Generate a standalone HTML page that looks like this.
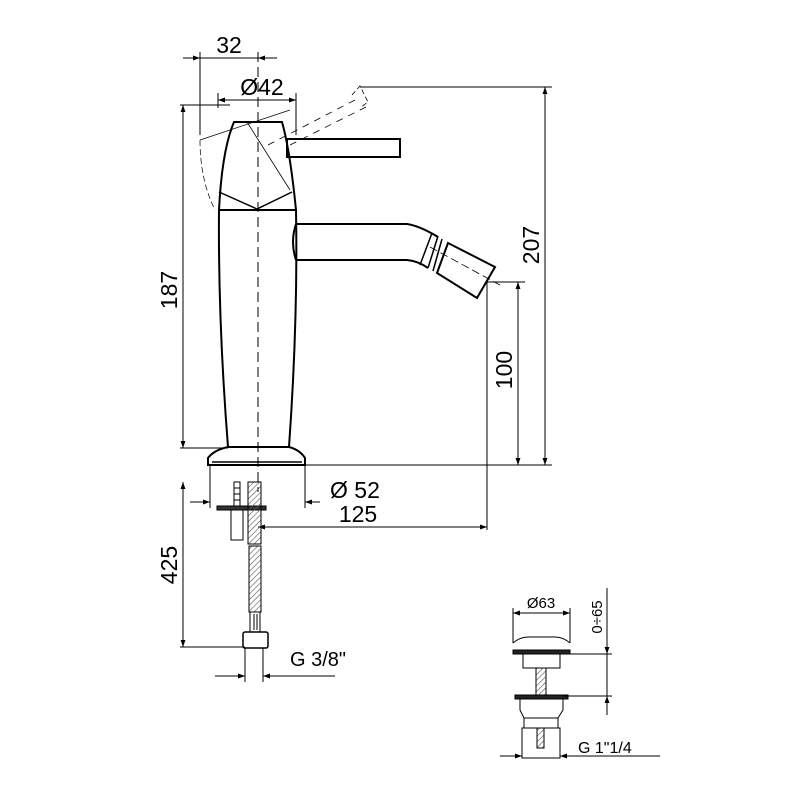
<!DOCTYPE html>
<html><head><meta charset="utf-8"><style>html,body{margin:0;padding:0;background:#fff}svg{display:block}</style></head>
<body>
<svg width="800" height="800" viewBox="0 0 800 800" xmlns="http://www.w3.org/2000/svg" font-family="Liberation Sans, sans-serif">
<defs>
<marker id="a" viewBox="0 0 10 10" refX="10" refY="5" markerWidth="10" markerHeight="7" orient="auto-start-reverse" markerUnits="userSpaceOnUse"><path d="M0,1.5 L10,5 L0,8.5Z" fill="#000"/></marker>
<pattern id="h" width="4" height="4" patternUnits="userSpaceOnUse" patternTransform="rotate(45)"><line x1="0" y1="0" x2="0" y2="4" stroke="#555" stroke-width="1.2"/></pattern>
</defs>
<g stroke="#000" fill="none" stroke-width="1">
<line x1="183" y1="58" x2="200" y2="58" marker-end="url(#a)"/>
<line x1="200" y1="58" x2="258" y2="58"/>
<line x1="277" y1="58" x2="258" y2="58" marker-end="url(#a)"/>
<line x1="200" y1="52" x2="200" y2="135"/>
<line x1="218" y1="100" x2="296" y2="100" marker-start="url(#a)" marker-end="url(#a)"/>
<line x1="218" y1="93" x2="218" y2="108"/>
<line x1="296" y1="93" x2="296" y2="135"/>
<line x1="258" y1="52" x2="258" y2="492" stroke-dasharray="10,5"/>
<path d="M234,122 L282,122 Q290,150 296,210 L219,210 Q222,150 234,122Z" stroke-width="2"/>
<path d="M219,192 L257,209 L292,192" stroke-width="1.5"/>
<path d="M247,122 L290,190" stroke-width="0.8"/>
<path d="M200,140 L290,110" stroke-width="0.7"/>
<path d="M200,140 Q200,180 215,210" stroke-width="0.7" stroke-dasharray="6,3"/>
<path d="M268,145 L355,100 M290,145 L370,105" stroke-width="0.8" stroke-dasharray="7,6"/>
<path d="M352,95 L360,86 L368,102 L360,108" stroke-width="0.8" stroke-dasharray="5,3"/>
<rect x="287" y="139" width="113" height="18" stroke-width="2"/>
<path d="M219,210 Q218,320 228,447 M296,210 Q298,320 289,447" stroke-width="2"/>
<path d="M228,447 L289,447 Q300,450 305,458 L305,465 L208,465 L208,458 Q214,450 228,447 Z" stroke-width="2"/>
<line x1="212" y1="462" x2="302" y2="462" stroke-width="1.5"/>
<path d="M296,224 L407,224 Q420,226 438,237 M296,260 L407,260 Q418,261 428,268" stroke-width="2"/>
<path d="M296,224 Q290,242 296,260" stroke-width="2"/>
<path d="M438,236 L428,268 M432,233 L420,265 M442,239 L433,271" stroke-width="1.5"/>
<path d="M448,243 L495,267 L477,298 L437,273 Z" stroke-width="2"/>
<line x1="430" y1="247" x2="500" y2="285" stroke-width="0.8" stroke-dasharray="8,4"/>
<line x1="360" y1="87" x2="552" y2="87"/>
<line x1="545" y1="87" x2="545" y2="465" marker-start="url(#a)" marker-end="url(#a)"/>
<line x1="487" y1="282" x2="525" y2="282"/>
<line x1="518" y1="282" x2="518" y2="465" marker-start="url(#a)" marker-end="url(#a)"/>
<line x1="305" y1="465" x2="552" y2="465"/>
<line x1="487" y1="282" x2="487" y2="530"/>
<line x1="180" y1="105" x2="230" y2="105"/>
<line x1="180" y1="448" x2="228" y2="448"/>
<line x1="183" y1="105" x2="183" y2="448" marker-start="url(#a)" marker-end="url(#a)"/>
<line x1="210" y1="466" x2="210" y2="508"/>
<line x1="305" y1="466" x2="305" y2="508"/>
<line x1="190" y1="502" x2="210" y2="502" marker-end="url(#a)"/>
<line x1="320" y1="502" x2="305" y2="502" marker-end="url(#a)"/>
<line x1="258" y1="527" x2="487" y2="527" marker-start="url(#a)" marker-end="url(#a)"/>
<rect x="234" y="482" width="6" height="24" stroke-width="1"/>
<line x1="234" y1="488" x2="240" y2="488"/><line x1="234" y1="494" x2="240" y2="494"/><line x1="234" y1="500" x2="240" y2="500"/>
<rect x="217" y="506" width="49" height="4" fill="#333"/>
<rect x="231" y="510" width="12" height="30"/>
<rect x="248" y="482" width="13" height="62" fill="url(#h)"/>
<rect x="249" y="546" width="12" height="66" fill="url(#h)"/>
<rect x="250" y="612" width="10" height="20"/>
<line x1="254" y1="614" x2="254" y2="630"/><line x1="257" y1="614" x2="257" y2="630"/>
<rect x="243" y="632" width="25" height="16" rx="2" stroke-width="1.5"/>
<line x1="180" y1="647" x2="245" y2="647"/>
<line x1="183" y1="482" x2="183" y2="647" marker-start="url(#a)" marker-end="url(#a)"/>
<line x1="245" y1="648" x2="245" y2="682"/>
<line x1="263" y1="648" x2="263" y2="682"/>
<line x1="215" y1="676" x2="245" y2="676" marker-end="url(#a)"/>
<line x1="335" y1="676" x2="263" y2="676" marker-end="url(#a)"/>
<line x1="513" y1="608" x2="513" y2="643"/>
<line x1="570" y1="608" x2="570" y2="643"/>
<line x1="513" y1="613" x2="570" y2="613" marker-start="url(#a)" marker-end="url(#a)"/>
<path d="M513,643 Q520,637 528,637 L555,637 Q563,637 570,643" />
<rect x="513" y="650" width="57" height="4" fill="#222"/>
<rect x="523" y="654" width="37" height="14" />
<rect x="536" y="668" width="10" height="27" fill="url(#h)"/>
<rect x="515" y="695" width="53" height="4" fill="#222"/>
<path d="M520,699 L563,699 L563,710 L558,718 L524,718 L520,710Z"/>
<rect x="524" y="718" width="34" height="10"/>
<rect x="522" y="728" width="38" height="30"/>
<rect x="537" y="728" width="7" height="20" fill="url(#h)"/>
<line x1="560" y1="654" x2="612" y2="654"/>
<line x1="563" y1="696" x2="612" y2="696"/>
<line x1="607" y1="588" x2="607" y2="654" marker-end="url(#a)"/>
<line x1="607" y1="654" x2="607" y2="696"/>
<line x1="607" y1="715" x2="607" y2="696" marker-end="url(#a)"/>
<line x1="500" y1="756" x2="522" y2="756" marker-end="url(#a)"/>
<line x1="560" y1="756" x2="660" y2="756"/>
<line x1="575" y1="756" x2="560" y2="756" marker-end="url(#a)"/>
</g>
<g fill="#000" font-size="23">
<text x="229" y="53" text-anchor="middle">32</text>
<text x="262" y="95" text-anchor="middle">Ø42</text>
<text transform="translate(177,290) rotate(-90)" text-anchor="middle">187</text>
<text transform="translate(539,245) rotate(-90)" text-anchor="middle">207</text>
<text transform="translate(512,370) rotate(-90)" text-anchor="middle">100</text>
<text x="330" y="498">Ø 52</text>
<text x="358" y="522" text-anchor="middle">125</text>
<text transform="translate(177,565) rotate(-90)" text-anchor="middle">425</text>
<text x="290" y="666" font-size="20">G 3/8"</text>
<text x="541" y="608" font-size="15" text-anchor="middle">Ø63</text>
<text transform="translate(602,617) rotate(-90)" font-size="15" text-anchor="middle">0÷65</text>
<text x="578" y="753" font-size="16">G 1"1/4</text>
</g>
</svg>
</body></html>
